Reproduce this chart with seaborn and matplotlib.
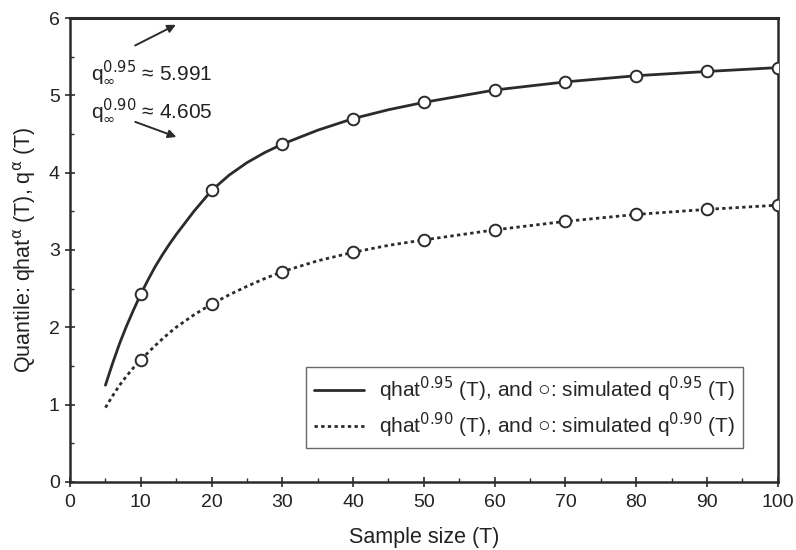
import matplotlib
matplotlib.use("Agg")
import matplotlib.pyplot as plt
from matplotlib.ticker import MultipleLocator
import seaborn as sns
import pandas as pd

# Curve values
curve_T = [5, 6, 7, 8, 9, 10, 11, 12, 13, 14, 15, 17.5, 20, 22.5, 25, 27.5, 30, 35, 40, 45,
           50, 60, 70, 80, 90, 100]
qhat95 = [1.25, 1.53, 1.79, 2.02, 2.23, 2.43, 2.61, 2.78, 2.93, 3.07, 3.20, 3.50, 3.77, 3.97,
          4.13, 4.26, 4.37, 4.55, 4.70, 4.815, 4.91, 5.07, 5.175, 5.255, 5.31, 5.36]
qhat90 = [0.96, 1.11, 1.25, 1.37, 1.48, 1.58, 1.67, 1.76, 1.845, 1.925, 2.00, 2.16, 2.30, 2.42,
          2.53, 2.63, 2.72, 2.86, 2.97, 3.06, 3.13, 3.26, 3.37, 3.46, 3.525, 3.58]

# Simulated quantiles
sim_T = [10, 20, 30, 40, 50, 60, 70, 80, 90, 100]
sim95 = [2.43, 3.77, 4.37, 4.70, 4.91, 5.07, 5.175, 5.255, 5.31, 5.36]
sim90 = [1.58, 2.30, 2.72, 2.97, 3.13, 3.26, 3.37, 3.46, 3.525, 3.58]

sns.set_style("ticks")
plt.rcParams["font.family"] = ["Liberation Sans", "DejaVu Sans"]

fig = plt.figure(figsize=(7.96, 5.5), dpi=100)
ax = fig.add_axes([0.088, 0.124, 0.889, 0.843])

col = "#2b2b2b"
txt = "#222222"
curves = pd.DataFrame({"T": curve_T, "q95": qhat95, "q90": qhat90})
sims = pd.DataFrame({"T": sim_T, "s95": sim95, "s90": sim90})

sns.lineplot(data=curves, x="T", y="q95", ax=ax, color=col, lw=2.0,
             label="qhat$^{0.95}$ (T), and \u25cb: simulated q$^{0.95}$ (T)")
sns.lineplot(data=curves, x="T", y="q90", ax=ax, color=col, lw=2.0,
             linestyle=(0, (1.2, 1.2)),
             label="qhat$^{0.90}$ (T), and \u25cb: simulated q$^{0.90}$ (T)")
sns.scatterplot(data=sims, x="T", y="s95", ax=ax, marker="o", s=70,
                facecolor="white", edgecolor=col, linewidth=1.4, zorder=5, legend=False)
sns.scatterplot(data=sims, x="T", y="s90", ax=ax, marker="o", s=70,
                facecolor="white", edgecolor=col, linewidth=1.4, zorder=5, legend=False)

ax.set_xlim(0, 100)
ax.set_ylim(0, 6)
ax.xaxis.set_major_locator(MultipleLocator(10))
ax.xaxis.set_minor_locator(MultipleLocator(5))
ax.yaxis.set_major_locator(MultipleLocator(1))
ax.yaxis.set_minor_locator(MultipleLocator(0.5))
ax.tick_params(which="major", direction="inout", length=7, width=1.2, colors=col,
               labelsize=14, labelcolor=txt)
ax.tick_params(axis="x", which="major", pad=5)
ax.tick_params(axis="y", which="major", pad=4)
ax.tick_params(which="minor", direction="in", length=3, width=1, colors=col)
for s in ax.spines.values():
    s.set_color(col)
    s.set_linewidth(1.8)
ax.spines["top"].set_linewidth(2.2)

ax.set_xlabel("Sample size (T)", fontsize=15.5, color=txt, labelpad=12)
ax.set_ylabel("Quantile: qhat$^{\\mathrm{\u03b1}}$ (T), q$^{\\mathrm{\u03b1}}$ (T)", fontsize=15.5,
              color=txt, labelpad=8)

ax.text(3.0, 5.30, "q$_{\\infty}^{0.95}$ \u2248 5.991", fontsize=15, va="center", color=txt)
ax.text(3.0, 4.81, "q$_{\\infty}^{0.90}$ \u2248 4.605", fontsize=15, va="center", color=txt)
ax.annotate("", xy=(15.3, 5.93), xytext=(8.85, 5.63),
            arrowprops=dict(arrowstyle="-|>", color=col, lw=1.4, mutation_scale=12))
ax.annotate("", xy=(15.4, 4.45), xytext=(8.85, 4.67),
            arrowprops=dict(arrowstyle="-|>", color=col, lw=1.4, mutation_scale=12))

leg = ax.legend(loc="lower right", bbox_to_anchor=(0.966, 0.05), fontsize=15,
                frameon=True, fancybox=False, edgecolor="#444444", handlelength=2.4,
                borderpad=0.4, labelspacing=0.3, handletextpad=0.7)
leg.get_frame().set_linewidth(1.0)

fig.savefig("out.png", dpi=100)
